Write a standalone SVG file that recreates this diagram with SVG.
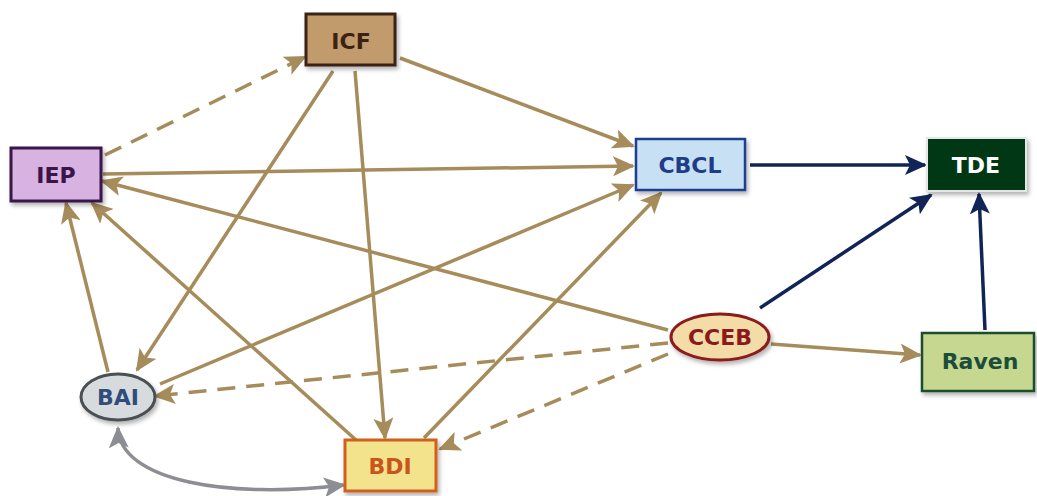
<svg xmlns="http://www.w3.org/2000/svg" width="1037" height="496" viewBox="0 0 1037 496">
<style>
text{font-family:"DejaVu Sans","Liberation Sans",sans-serif;font-weight:bold;font-size:22px;text-anchor:middle;dominant-baseline:central}
.t{fill:none;stroke:#a68b5b;stroke-width:3.5}
.d{stroke-dasharray:18 11}
.n{fill:none;stroke:#102457;stroke-width:3.5}
.g{fill:none;stroke:#8c8e93;stroke-width:3.5}
</style>
<defs>
<filter id="sh" x="-20%" y="-20%" width="150%" height="150%"><feDropShadow dx="2" dy="3" stdDeviation="2" flood-color="#000" flood-opacity="0.3"/></filter>
<marker id="at" markerUnits="userSpaceOnUse" markerWidth="22" markerHeight="20" viewBox="0 0 22 20" refX="20" refY="10" orient="auto"><path d="M0,0 L22,10 L0,20 L5,10 Z" fill="#a68b5b"/></marker>
<marker id="an" markerUnits="userSpaceOnUse" markerWidth="22" markerHeight="20" viewBox="0 0 22 20" refX="20" refY="10" orient="auto"><path d="M0,0 L22,10 L0,20 L5,10 Z" fill="#102457"/></marker>
<marker id="ag" markerUnits="userSpaceOnUse" markerWidth="22" markerHeight="20" viewBox="0 0 22 20" refX="20" refY="10" orient="auto"><path d="M0,0 L22,10 L0,20 L5,10 Z" fill="#8c8e93"/></marker>
<marker id="ags" markerUnits="userSpaceOnUse" markerWidth="22" markerHeight="20" viewBox="0 0 22 20" refX="2" refY="10" orient="auto"><path d="M22,0 L0,10 L22,20 L17,10 Z" fill="#8c8e93"/></marker>
</defs>
<g id="connectors">
<line class="t d" x1="105" y1="155" x2="305" y2="57" marker-end="url(#at)"/>
<line class="t" x1="400" y1="58" x2="633" y2="146" marker-end="url(#at)"/>
<line class="t" x1="333" y1="71" x2="137" y2="370" marker-end="url(#at)"/>
<line class="t" x1="355" y1="71" x2="385" y2="438" marker-end="url(#at)"/>
<line class="t" x1="103" y1="174" x2="633" y2="166" marker-end="url(#at)"/>
<line class="t" x1="668" y1="330" x2="102" y2="181" marker-end="url(#at)"/>
<line class="t" x1="356" y1="440" x2="92" y2="203" marker-end="url(#at)"/>
<line class="t" x1="108" y1="372" x2="66" y2="203" marker-end="url(#at)"/>
<line class="t" x1="160" y1="384" x2="633" y2="185" marker-end="url(#at)"/>
<line class="t" x1="424" y1="438" x2="661" y2="193" marker-end="url(#at)"/>
<line class="t d" x1="668" y1="343" x2="155" y2="396" marker-end="url(#at)"/>
<line class="t d" x1="668" y1="354" x2="440" y2="449" marker-end="url(#at)"/>
<line class="t" x1="771" y1="344" x2="920" y2="355" marker-end="url(#at)"/>
<line class="n" x1="750" y1="165" x2="925" y2="165" marker-end="url(#an)"/>
<line class="n" x1="760" y1="308" x2="931" y2="195" marker-end="url(#an)"/>
<line class="n" x1="985" y1="330" x2="979" y2="194" marker-end="url(#an)"/>
<path class="g" d="M118,428 C120,482 230,499 344,485" marker-start="url(#ags)" marker-end="url(#ag)"/>
</g>
<g id="ICF"><rect x="306" y="14" width="89" height="51" fill="#c29b6c" stroke="#3b2314" stroke-width="3" filter="url(#sh)"/><text x="351" y="41" fill="#3b2314">ICF</text></g>
<g id="IEP"><rect x="11" y="148" width="90" height="53" fill="#d8b2e0" stroke="#3a1548" stroke-width="3" filter="url(#sh)"/><text x="56" y="175" fill="#3a1548">IEP</text></g>
<g id="CBCL"><rect x="636" y="139" width="109" height="51" fill="#c7e0f3" stroke="#1f3f8f" stroke-width="2.5" filter="url(#sh)"/><text x="690" y="165" fill="#1f3c88">CBCL</text></g>
<g id="TDE"><rect x="927" y="138" width="99" height="53" fill="#053813" stroke="#e6e6e6" stroke-width="2" filter="url(#sh)"/><text x="976" y="165" fill="#ffffff">TDE</text></g>
<g id="CCEB"><ellipse cx="720" cy="337" rx="49" ry="23" fill="#f4dca8" stroke="#8b1a1a" stroke-width="3" filter="url(#sh)"/><text x="720" y="337" fill="#8b1a1a">CCEB</text></g>
<g id="Raven"><rect x="922" y="333" width="112" height="58" fill="#c6d78f" stroke="#1c4d2f" stroke-width="2.5" filter="url(#sh)"/><text x="980" y="361" fill="#1c4d3a">Raven</text></g>
<g id="BAI"><ellipse cx="118" cy="397" rx="37" ry="23" fill="#d8dbde" stroke="#4a4f52" stroke-width="3" filter="url(#sh)"/><text x="118" y="397" fill="#2f4c7a">BAI</text></g>
<g id="BDI"><rect x="345" y="440" width="91" height="51" fill="#f3e38c" stroke="#d0601e" stroke-width="3" filter="url(#sh)"/><text x="390" y="466" fill="#c9541c">BDI</text></g>
</svg>
